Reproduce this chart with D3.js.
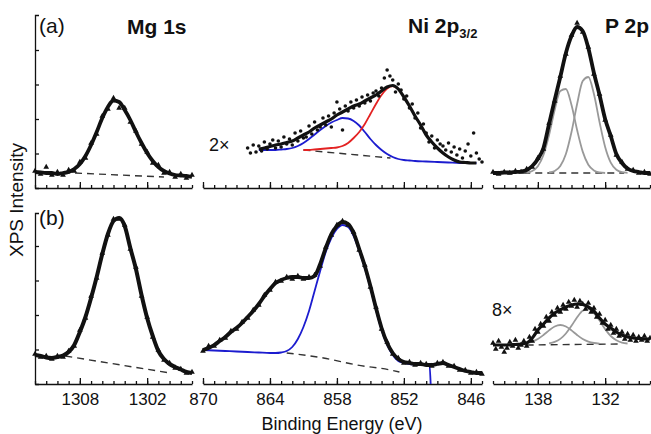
<!DOCTYPE html>
<html lang="en">
<head>
<meta charset="UTF-8">
<title>XPS spectra: Mg 1s, Ni 2p3/2, P 2p</title>
<script src="https://d3js.org/d3.v7.min.js"></script>
<style>
  body { margin: 0; background: #fff; }
  svg { display: block; font-family: "Liberation Sans", Arial, sans-serif; }
</style>
</head>
<body>
<div id="chart"></div>
<script>
// binding energy windows (eV) and labelled ticks
const mgRange = [1312, 1298], mgMajor = [1308, 1302];
const niRange = [870, 845], niMajor = [870, 864, 858, 852, 846];
const pRange = [142, 128], pMajor = [138, 132];
const topIntensity = [0, 173], botIntensity = [0, 171];
const intensityTicks = [34.5, 69, 103.5, 138];

// ---- row (a) ----
const mgTopFit = [[1312,16],[1311.5,15.5],[1311,15],[1310.5,15],[1310,14],[1309.5,15],[1309,16],[1308.5,19],[1308,24],[1307.5,32],[1307,43],[1306.5,56],[1306,70],[1305.5,81],[1305,87.5],[1304.5,86],[1304,78],[1303.5,68],[1303,56],[1302.5,45],[1302,35],[1301.5,27],[1301,21],[1300.5,17],[1300,14.5],[1299.5,13],[1299,12.5],[1298.5,12],[1298,11]];
const mgTopData = [[1312,17],[1311.5,14],[1311,21],[1310.5,13],[1310,16],[1309.5,13],[1309,18],[1308.5,17],[1308,26],[1307.5,30],[1307,45],[1306.5,54],[1306,72],[1305.5,79],[1305,90],[1304.5,80],[1304,80],[1303.5,66],[1303,57],[1302.5,44],[1302,36],[1301.5,25],[1301,23],[1300.5,15],[1300,16],[1299.5,11],[1299,14],[1298.5,10],[1298,13]];
const mgTopBg = [[1309.5,15.5],[1300.5,11]];

const niTopFit = [[865,39],[864.5,40],[864,41.5],[863.5,43],[863,44],[862.5,45.5],[862,47],[861.5,50],[861,53],[860.5,56],[860,60],[859.5,63],[859,66],[858.5,69],[858,73],[857.5,76],[857,79],[856.5,82],[856,84],[855.5,87],[855,90],[854.5,93],[854,97],[853.5,101],[853,102.5],[852.5,99],[852,91],[851.5,82],[851,72],[850.5,63],[850,53],[849.5,46],[849,40],[848.5,35],[848,31],[847.5,28],[847,26],[846.5,25.5],[846,25],[845.5,25]];
const niTopBlue = [[865,38],[864.5,38],[864,38],[863.5,38],[863,38.5],[862.5,39],[862,40],[861.5,42],[861,45],[860.5,49],[860,53.5],[859.5,58],[859,62],[858.5,65.5],[858,68],[857.5,70],[857,69.5],[856.5,67],[856,62.5],[855.5,56],[855,49],[854.5,43],[854,38],[853.5,34],[853,31],[852.5,29],[852,28],[851.5,27.5],[851,27],[850,26.5],[849,26],[848,25.5],[847,25],[846,25],[845.5,25]];
const niTopRed = [[861,38],[860.5,38],[860,38.5],[859.5,39],[859,39.5],[858.5,40],[858,40.5],[857.5,42],[857,45],[856.5,50],[856,56],[855.5,64],[855,74],[854.5,84],[854,93],[853.5,99.5],[853,102],[852.5,99],[852,91],[851.5,82],[851,72],[850.5,63],[850,53],[849.5,46],[849,40],[848.5,35],[848,31],[847.5,28],[847,26],[846.5,25.5],[846,25]];
const niTopData = [[866,40],[865.75,35],[865.5,43],[865.25,36],[865,42],[864.75,37],[864.5,46],[864.25,39],[864,44],[863.75,48],[863.5,40],[863.25,47],[863,41],[862.75,51],[862.5,44],[862.25,49],[862,43],[861.75,55],[861.5,47],[861.25,57],[861,50],[860.75,51],[860.5,62],[860.25,54],[860,66],[859.75,58],[859.5,61],[859.25,70],[859,63],[858.75,72],[858.5,61],[858.25,75],[858,86],[857.75,79],[857.5,58],[857.25,82],[857,77],[856.75,86],[856.5,80],[856.25,88],[856,82],[855.75,91],[855.5,85],[855.25,93],[855,87],[854.75,95],[854.5,97],[854.25,92],[854,100],[853.75,110],[853.5,118],[853.25,112],[853,108],[852.75,96],[852.5,104],[852.25,98],[852,89],[851.75,92],[851.5,80],[851.25,84],[851,70],[850.75,75],[850.5,60],[850.25,64],[850,55],[849.75,46],[849.5,52],[849.25,40],[849,48],[848.75,44],[848.5,42],[848.25,38],[848,45],[847.75,36],[847.5,41],[847.25,33],[847,39],[846.75,30],[846.5,37],[846.25,44],[846,32],[845.75,55],[845.5,35],[845.25,29],[845,26]];
const niTopBg = [[861,38],[853.2,30]];

const pTopFit = [[142,15],[141.5,15],[141,15.5],[140.5,15.5],[140,16],[139.5,16.5],[139,18],[138.5,22],[138,29],[137.5,40],[137,64],[136.5,88],[136,111],[135.5,135],[135,152],[134.5,161],[134,157],[133.5,140],[133,115],[132.5,93],[132,69],[131.5,52],[131,34],[130.5,25],[130,19.5],[129.5,17],[129,16],[128.5,15],[128,15]];
const pTopA = [[139,15.5],[138.5,17],[138,21.8],[137.5,33],[137,53],[136.5,78],[136,97],[135.5,99],[135,83],[134.5,58],[134,36.4],[133.5,23.3],[133,17.6],[132.5,15.6],[132,15]];
const pTopB = [[137,15.5],[136.5,17],[136,22],[135.5,34],[135,56],[134.5,84],[134,107],[133.5,111],[133,94],[132.5,66],[132,41],[131.5,25.3],[131,18.2],[130.5,15.8],[130,15.2]];
const pTopData = [[142,16],[141.5,14],[141,16],[140.5,15],[140,17],[139.5,16],[139,19],[138.5,21],[138,30],[137.5,39],[137,65],[136.5,87],[136,112],[135.5,134],[135,153],[134.5,165],[134,156],[133.5,141],[133,114],[132.5,94],[132,68],[131.5,53],[131,33],[130.5,26],[130,19],[129.5,18],[129,15],[128.5,16],[128,14]];
const pTopBg = [[139.3,15],[130.3,15]];

// ---- row (b) ----
const mgBotFit = [[1312,29],[1311.5,28],[1311,26.5],[1310.5,26],[1310,27],[1309.5,28.5],[1309,32],[1308.5,39],[1308,52],[1307.5,67],[1307,86],[1306.5,107],[1306,130],[1305.5,150],[1305,163],[1304.5,166],[1304,158],[1303.5,136],[1303,115],[1302.5,89],[1302,66],[1301.5,48],[1301,33],[1300.5,25],[1300,20],[1299.5,17],[1299,14.5],[1298.5,12],[1298,11]];
const mgBotData = [[1312,30],[1311.5,27],[1311,28],[1310.5,25],[1310,28],[1309.5,27],[1309,33],[1308.5,38],[1308,54],[1307.5,66],[1307,88],[1306.5,106],[1306,131],[1305.5,149],[1305,165],[1304.5,165],[1304,159],[1303.5,135],[1303,117],[1302.5,88],[1302,67],[1301.5,47],[1301,34],[1300.5,24],[1300,21],[1299.5,16],[1299,15],[1298.5,11],[1298,12]];
const mgBotBg = [[1309.3,28],[1300.2,11.5]];

const niBotFit = [[870,34],[869.5,36],[869,39],[868.5,43],[868,47],[867.5,52],[867,56],[866.5,61],[866,67],[865.5,73],[865,80],[864.5,88],[864,95],[863.5,101],[863,104],[862.5,106],[862,107],[861.5,107],[861,106],[860.5,106],[860,108],[859.5,120],[859,136],[858.5,150],[858,158],[857.5,162],[857,160],[856.5,151],[856,135],[855.5,118],[855,98],[854.5,76],[854,56],[853.5,41],[853,31],[852.5,25],[852,22],[851.5,21],[851,20],[850.5,20],[850,19],[849.5,19],[849,20],[848.5,21],[848,19],[847.5,17],[847,15],[846.5,13],[846,12],[845.5,11],[845,11]];
const niBotBlue = [[870,34],[869,33.5],[868,33],[867,32.5],[866,32],[865,31.5],[864,31],[863.5,31],[863,31.5],[862.5,33],[862,37],[861.5,45],[861,57],[860.5,73],[860,93],[859.5,113],[859,132],[858.5,146],[858,155],[857.5,159],[857,157],[856.5,148],[856,133],[855.5,116],[855,96],[854.5,74],[854,54],[853.5,39],[853,29],[852.5,23],[852,21],[851.5,20],[851,19.5],[850,19],[849.7,18.5],[849.6,0]];
const niBotData = [[870,33],[869.5,38],[869,38],[868.5,44],[868,46],[867.5,53],[867,55],[866.5,62],[866,66],[865.5,74],[865,79],[864.5,89],[864,94],[863.5,102],[863,103],[862.5,107],[862,105],[861.5,108],[861,105],[860.5,107],[860,109],[859.5,118],[859,137],[858.5,149],[858,159],[857.5,163],[857,159],[856.5,152],[856,134],[855.5,119],[855,97],[854.5,77],[854,55],[853.5,42],[853,30],[852.5,26],[852,21],[851.5,22],[851,19],[850.5,21],[850,20],[849.5,18],[849,21],[848.5,22],[848,18],[847.5,18],[847,14],[846.5,14],[846,11],[845.5,12],[845,10]];
const niBotBg = [[862.5,31],[859.2,26],[856.2,19],[853.2,14],[852.4,12]];

const pBotFit = [[142,39],[141.5,39],[141,39],[140.5,39],[140,39.5],[139.5,40],[139,41],[138.5,46],[138,54],[137.5,60],[137,66],[136.5,71],[136,74],[135.5,77],[135,79],[134.5,80],[134,79.5],[133.5,77],[133,73],[132.5,66],[132,60],[131.5,56],[131,52],[130.5,49],[130,47],[129.5,46],[129,45.5],[128.5,45],[128,45]];
const pBotA = [[139,41],[138.5,42.4],[138,45],[137.5,49],[137,53.6],[136.5,57.5],[136,59],[135.5,57.5],[135,53.6],[134.5,49],[134,45],[133.5,42.4],[133,41],[132.5,40.3]];
const pBotB = [[137,40.7],[136.5,42.1],[136,45.1],[135.5,50.5],[135,58.2],[134.5,66.7],[134,73.2],[133.5,74.9],[133,71],[132.5,63.4],[132,54.9],[131.5,48],[131,43.7],[130.5,41.4],[130,40.5]];
const pBotData = [[142,41],[141.75,35],[141.5,43],[141.25,37],[141,32],[140.75,36],[140.5,42],[140.25,38],[140,44],[139.75,36],[139.5,39],[139.25,43],[139,38],[138.75,47],[138.5,43],[138.25,55],[138,52],[137.75,60],[137.5,58],[137.25,67],[137,63],[136.75,72],[136.5,69],[136.25,76],[136,72],[135.75,79],[135.5,75],[135.25,82],[135,78],[134.75,84],[134.5,77],[134.25,83],[134,80],[133.75,75],[133.5,81],[133.25,72],[133,76],[132.75,67],[132.5,70],[132.25,61],[132,64],[131.75,55],[131.5,59],[131.25,51],[131,55],[130.75,48],[130.5,52],[130.25,45],[130,50],[129.75,44],[129.5,49],[129.25,43],[129,47],[128.75,44],[128.5,48],[128.25,43],[128,46]];
const pBotBg = [[139,39],[130.5,40]];

const BLUE = "#1c1ccf", RED = "#e32222", GRAY = "#999";

const rows = [
  { top: 15, bottom: 188, domain: topIntensity, labels: false },
  { top: 213, bottom: 384, domain: botIntensity, labels: true }
];
const cols = [
  { x0: 35, x1: 192, range: mgRange, major: mgMajor },
  { x0: 203, x1: 482, range: niRange, major: niMajor },
  { x0: 493, x1: 650, range: pRange, major: pMajor }
];

// what goes in each panel [row][col]
const panels = [
  [
    { bg: mgTopBg, comps: [], data: mgTopData, dot: false, fit: mgTopFit, fitW: 3.8 },
    { bg: niTopBg, comps: [[niTopBlue, BLUE], [niTopRed, RED]], data: niTopData, dot: true, fit: niTopFit, fitW: 3.2 },
    { bg: pTopBg, comps: [[pTopA, GRAY], [pTopB, GRAY]], data: pTopData, dot: false, fit: pTopFit, fitW: 3.8 }
  ],
  [
    { bg: mgBotBg, comps: [], data: mgBotData, dot: false, fit: mgBotFit, fitW: 4 },
    { bg: niBotBg, comps: [[niBotBlue, BLUE]], data: niBotData, dot: false, fit: niBotFit, fitW: 3.8 },
    { bg: pBotBg, comps: [[pBotA, GRAY], [pBotB, GRAY]], data: pBotData, dot: false, fit: pBotFit, fitW: 3.2 }
  ]
];

const svg = d3.select("#chart").append("svg")
  .attr("width", 651).attr("height", 434);

rows.forEach((row, ri) => {
  const y = d3.scaleLinear().domain(row.domain).range([row.bottom, row.top]);

  // left intensity axis with inward ticks and a small top bracket
  svg.append("g")
    .attr("transform", `translate(${cols[0].x0},0)`)
    .call(d3.axisLeft(y).tickValues(intensityTicks).tickFormat("")
      .tickSizeInner(-4).tickSizeOuter(-4))
    .call(g => g.selectAll("path, line").attr("stroke", "#111").attr("stroke-width", 1.3));

  cols.forEach((col, ci) => {
    const x = d3.scaleLinear().domain(col.range).range([col.x0, col.x1]);
    const p = panels[ri][ci];
    const g = svg.append("g");

    // minor ticks every 1 eV
    g.append("g")
      .attr("transform", `translate(0,${row.bottom})`)
      .call(d3.axisBottom(x).tickValues(d3.range(col.range[1], col.range[0] + 1))
        .tickFormat("").tickSizeInner(-3).tickSizeOuter(0))
      .call(a => a.selectAll("path, line").attr("stroke", "#111").attr("stroke-width", 1.3));

    // major ticks + labels
    g.append("g")
      .attr("transform", `translate(0,${row.bottom})`)
      .call(d3.axisBottom(x).tickValues(col.major)
        .tickFormat(row.labels ? d3.format("d") : "")
        .tickSizeInner(-6).tickSizeOuter(0).tickPadding(9))
      .call(a => a.select(".domain").remove())
      .call(a => a.selectAll("line").attr("stroke", "#111").attr("stroke-width", 1.3))
      .call(a => a.selectAll("text").attr("font-size", 17).attr("fill", "#111")
        .attr("font-family", "Liberation Sans, Arial, sans-serif"));

    const line = d3.line()
      .x(d => x(d[0])).y(d => y(d[1]))
      .curve(d3.curveMonotoneX);

    g.append("path").datum(p.bg)
      .attr("d", line)
      .attr("fill", "none").attr("stroke", "#333")
      .attr("stroke-width", 1.4).attr("stroke-dasharray", "7,5");

    p.comps.forEach(([pts, color]) => {
      g.append("path").datum(pts).attr("d", line)
        .attr("fill", "none").attr("stroke", color).attr("stroke-width", 1.8);
    });

    if (p.dot) {
      g.selectAll("circle.pt").data(p.data).enter().append("circle")
        .attr("class", "pt")
        .attr("cx", d => x(d[0])).attr("cy", d => y(d[1]))
        .attr("r", 1.8).attr("fill", "#111");
    } else {
      const tri = d3.symbol(d3.symbolTriangle, 14);
      g.selectAll("path.pt").data(p.data).enter().append("path")
        .attr("class", "pt")
        .attr("transform", d => `translate(${x(d[0])},${y(d[1])})`)
        .attr("d", tri).attr("fill", "#111");
    }

    g.append("path").datum(p.fit).attr("d", line)
      .attr("fill", "none").attr("stroke", "#111")
      .attr("stroke-width", p.fitW).attr("stroke-linejoin", "round");
  });
});

// text
const txt = (x, yy, s, size, weight) => svg.append("text")
  .attr("x", x).attr("y", yy).attr("font-size", size)
  .attr("font-weight", weight || "normal").attr("fill", "#111").text(s);

txt(39, 33, "(a)", 21);
txt(39, 225, "(b)", 21);
txt(127, 34, "Mg 1s", 21, "bold");
const ni = txt(408, 33, "Ni 2p", 21, "bold");
ni.append("tspan").attr("font-size", 13).attr("dy", 5).text("3/2");
txt(605, 33, "P 2p", 21, "bold");
txt(209, 151, "2\u00d7", 18);
txt(492, 316, "8\u00d7", 18);

svg.append("text")
  .attr("x", 342).attr("y", 430).attr("text-anchor", "middle")
  .attr("font-size", 18).attr("fill", "#111").text("Binding Energy (eV)");

svg.append("text")
  .attr("transform", "translate(23,200) rotate(-90)")
  .attr("text-anchor", "middle").attr("font-size", 19).attr("fill", "#111")
  .text("XPS Intensity");
</script>
</body>
</html>
